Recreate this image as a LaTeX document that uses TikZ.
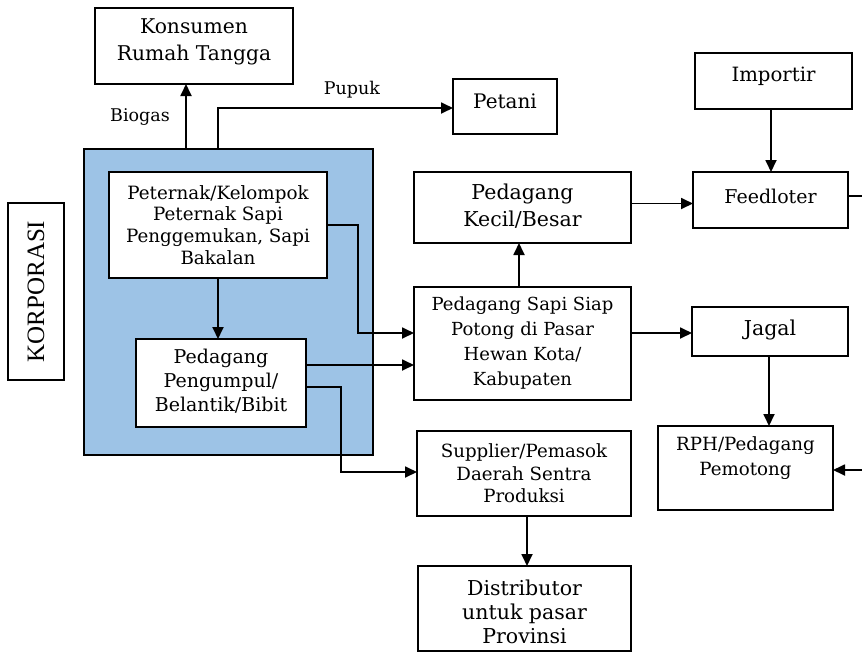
\documentclass[tikz,border=0pt]{standalone}
\usepackage{fontspec}
\setmainfont{DejaVu Serif}
\newfontfamily\korpfont{Liberation Serif}
\usetikzlibrary{arrows.meta}
\definecolor{korpblue}{RGB}{157,195,230}
\tikzset{
  box/.style={draw=black, line width=1.8pt, fill=white, outer sep=0pt, inner sep=0pt},
  txt/.style={align=center, inner sep=0pt, text=black},
  fs/.style n args={2}{font=\fontsize{#1}{#2}\selectfont},
  conn/.style={line width=1.8pt, draw=black},
  arr/.style={conn, -{Triangle[length=12pt,width=11pt]}},
  lbl/.style={font=\fontsize{17.5}{20}\selectfont, inner sep=0pt}
}
\begin{document}
\begin{tikzpicture}[x=1pt,y=-1pt]
\useasboundingbox (0,0) rectangle (862,654);
% boxes
\node[box, minimum width=198, minimum height=76] (kons) at (194,46) {};
\node[box, minimum width=104, minimum height=55] (petani) at (505,106.5) {};
\node[box, minimum width=157, minimum height=56] (importir) at (773.5,81) {};
\node[box, fill=korpblue, minimum width=289, minimum height=306] (korp) at (228.5,302) {};
\node[box, minimum width=218, minimum height=106] (peternak) at (218,225) {};
\node[box, minimum width=170, minimum height=88] (pengumpul) at (221,383) {};
\node[box, line width=1.4pt, minimum width=56, minimum height=177] (korplabel) at (36,291.5) {};
\node[box, minimum width=217, minimum height=71] (kecil) at (522.5,207.5) {};
\node[box, minimum width=155, minimum height=56] (feed) at (770.5,200) {};
\node[box, minimum width=217, minimum height=113] (siap) at (522.5,343.5) {};
\node[box, minimum width=156, minimum height=49] (jagal) at (770,331.5) {};
\node[box, minimum width=214, minimum height=85] (supplier) at (524,473.5) {};
\node[box, minimum width=175, minimum height=84] (rph) at (745.5,468) {};
\node[box, minimum width=213, minimum height=85] (distr) at (524.5,608.5) {};
% texts
\node[txt, fs={20.3}{27}] at ([yshift=4]kons.center) {Konsumen\\Rumah Tangga};
\node[txt, fs={20}{22}] at ([yshift=5]petani.center) {Petani};
\node[txt, fs={19.7}{22}] at ([yshift=5]importir.center) {Importir};
\node[txt, fs={18.3}{21.7}] at (peternak.center) {Peternak/Kelompok\\Peternak Sapi\\Penggemukan, Sapi\\Bakalan};
\node[txt, fs={19}{24}] at ([yshift=2]pengumpul.center) {Pedagang\\Pengumpul/\\Belantik/Bibit};
\node[txt, rotate=90, font=\korpfont\fontsize{25}{28}\selectfont] at (korplabel.center) {KORPORASI};
\node[txt, fs={20.5}{27}] at ([yshift=1]kecil.center) {Pedagang\\Kecil/Besar};
\node[txt, fs={19}{22}] at ([yshift=4]feed.center) {Feedloter};
\node[txt, fs={18}{25}] at (siap.center) {Pedagang Sapi Siap\\Potong di Pasar\\Hewan Kota/\\Kabupaten};
\node[txt, fs={20.5}{22}] at ([yshift=2]jagal.center) {Jagal};
\node[txt, fs={18.2}{22.5}] at (supplier.center) {Supplier/Pemasok\\Daerah Sentra\\Produksi};
\node[txt, fs={18.2}{25}] at ([yshift=10]rph.center) {RPH/Pedagang\\Pemotong};
\node[txt, fs={20.5}{24}] at ([yshift=-3]distr.center) {Distributor\\untuk pasar\\Provinsi};
% connectors
\draw[arr] ([xshift=-42.5]korp.north) -- ([xshift=-42.5]korp.north |- kons.south);
\node[lbl] (biogas) at (140,117) {Biogas};
\draw[arr] ([xshift=-10.5]korp.north) |- ([yshift=-1.5]petani.west);
\node[lbl] (pupuk) at (352,90) {Pupuk};
\draw[arr] (peternak.east) -- ++(31,0) |- ([yshift=10.5]siap.west);
\draw[arr] (peternak.south) -- (peternak.south |- pengumpul.north);
\draw[arr] ([yshift=18]pengumpul.east) -- ([yshift=18]pengumpul.east -| siap.west);
\draw[arr] ([yshift=-4]pengumpul.east) -- ++(35,0) |- ([yshift=1.5]supplier.west);
\draw[arr] ([xshift=-3.5]siap.north) -- ([xshift=-3.5]siap.north |- kecil.south);
\draw[arr] ([yshift=4]kecil.east) -- ([yshift=4]kecil.east -| feed.west);
\draw[arr] ([xshift=-2.5]importir.south) -- ([xshift=-2.5]importir.south |- feed.north);
\coordinate (feedout) at (862,196);
\draw[conn] (feedout -| feed.east) -- (feedout);
\draw[arr] ([yshift=10.5]siap.east) -- ([yshift=10.5]siap.east -| jagal.west);
\draw[arr] ([xshift=-1]jagal.south) -- ([xshift=-1]jagal.south |- rph.north);
\coordinate (rphin) at (862,470);
\draw[arr] (rphin) -- (rphin -| rph.east);
\draw[arr] ([xshift=3]supplier.south) -- ([xshift=3]supplier.south |- distr.north);
\end{tikzpicture}
\end{document}
